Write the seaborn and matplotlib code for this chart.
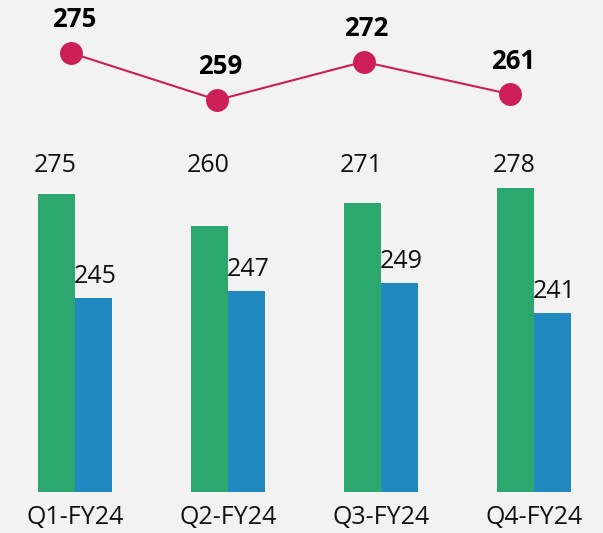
import matplotlib.pyplot as plt
import matplotlib.transforms as mtransforms
import pandas as pd
import seaborn as sns

# chart data
quarters = ['Q1-FY24', 'Q2-FY24', 'Q3-FY24', 'Q4-FY24']
series_a = [275, 260, 271, 278]      # green bars
series_b = [245, 247, 249, 241]      # blue bars
line_values = [275, 259, 272, 261]   # red line on top

GREEN = '#2ca86e'
BLUE = '#2288c0'
RED = '#cc1f57'
BG = '#f2f2f2'

sns.set_theme(style='white')
plt.rcParams['font.family'] = ['Open Sans', 'DejaVu Sans']

bars = pd.DataFrame({
    'quarter': quarters * 2,
    'value': series_a + series_b,
    'series': ['A'] * len(quarters) + ['B'] * len(quarters),
})
palette = {'A': GREEN, 'B': BLUE}

fig = plt.figure(figsize=(6.03, 5.33), dpi=100, facecolor=BG)

# bar panel (green and blue on their own scales)
ax = fig.add_axes([0, 41 / 533, 1, 352 / 533])
ax.set_facecolor(BG)
ax2 = ax.twinx()
ax2.set_facecolor('none')

sns.barplot(data=bars[bars['series'] == 'A'], x='quarter', y='value', hue='series',
            hue_order=['A', 'B'], palette=palette, width=0.485, saturation=1,
            dodge=True, linewidth=0, legend=False, ax=ax)
sns.barplot(data=bars[bars['series'] == 'B'], x='quarter', y='value', hue='series',
            hue_order=['A', 'B'], palette=palette, width=0.485, saturation=1,
            dodge=True, linewidth=0, legend=False, ax=ax2)

ax.set_ylim(133, 301)
ax2.set_ylim(193.3, 287.2)
ax.set_xlim(-0.49, 3.451)

trans = mtransforms.blended_transform_factory(ax.transData, ax.transAxes)
for patch, v in zip(ax.patches, series_a):
    ax.text(patch.get_x() + patch.get_width() / 2 - 0.01, 0.908, str(v), transform=trans,
            ha='center', va='baseline', fontsize=18, color='#111111')
for patch, v in zip(ax2.patches, series_b):
    ax2.annotate(str(v), (patch.get_x() + patch.get_width() / 2, v), xytext=(2, 9),
                 textcoords='offset pixels', ha='center', va='bottom',
                 fontsize=18, color='#111111')

for a in (ax, ax2):
    a.set_xlabel('')
    a.set_ylabel('')
    a.set_yticks([])
    for s in a.spines.values():
        s.set_visible(False)
ax.tick_params(axis='x', length=0, pad=9, labelsize=18, labelcolor='#111111')
ax2.tick_params(axis='x', length=0)

# line panel on top
axl = fig.add_axes([0, 393 / 533, 1, 140 / 533])
axl.set_facecolor('none')
sns.lineplot(x=list(range(len(quarters))), y=line_values, color=RED, linewidth=1.5,
             marker='o', markersize=16.5, markeredgewidth=0, ax=axl)
axl.set_xlim(-0.485, 3.636)
axl.set_ylim(245.4, 293)
for i, v in enumerate(line_values):
    axl.annotate(str(v), (i, v), xytext=(3, 33), textcoords='offset pixels',
                 ha='center', va='center', fontsize=18.5, fontweight='bold', color='black')
axl.axis('off')

fig.savefig('out.png', dpi=100, facecolor=BG)
